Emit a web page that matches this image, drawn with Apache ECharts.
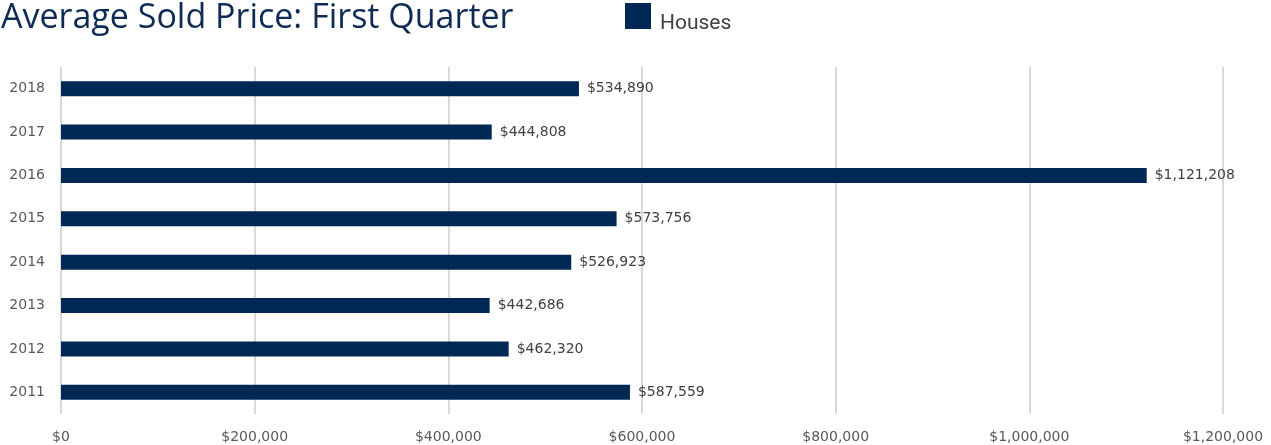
<!DOCTYPE html>
<html>
<head>
<meta charset="utf-8">
<script src="https://cdn.jsdelivr.net/npm/echarts@6/dist/echarts.min.js"></script>
<style>
  html, body { margin: 0; padding: 0; background: #ffffff; }
  #chart { width: 1271px; height: 445px; }
</style>
</head>
<body>
<div id="chart"></div>
<script>
// First-quarter average sold price of houses, by year
const years = ['2011', '2012', '2013', '2014', '2015', '2016', '2017', '2018'];
const houses = [587559, 462320, 442686, 526923, 573756, 1121208, 444808, 534890];

const navy = '#002855';
const money = v => '$' + Math.round(v).toLocaleString('en-US');

const chart = echarts.init(document.getElementById('chart'));
chart.setOption({
  animation: false,
  title: {
    text: 'Average Sold Price: First Quarter',
    left: -4,
    top: -4,
    textStyle: { fontFamily: 'Open Sans', fontSize: 34, fontWeight: 'normal', color: '#0d2b55' }
  },
  legend: {
    data: ['Houses'],
    left: 620,
    top: -2,
    itemWidth: 26,
    itemHeight: 26,
    itemGap: 8,
    icon: 'rect',
    formatter: '{t|{name}}',
    textStyle: {
      rich: {
        t: { fontFamily: 'Roboto', fontSize: 21, color: '#404040', padding: [16, 0, 0, 4] }
      }
    }
  },
  grid: { left: 61, right: 48, top: 67, bottom: 31, containLabel: false },
  xAxis: {
    type: 'value',
    min: 0,
    max: 1200000,
    interval: 200000,
    axisLine: { show: false },
    axisTick: { show: false },
    splitLine: { lineStyle: { color: '#d9d9d9', width: 2 } },
    axisLabel: {
      margin: 16,
      formatter: money,
      fontFamily: 'DejaVu Sans',
      fontSize: 14,
      color: '#595959'
    }
  },
  yAxis: {
    type: 'category',
    data: years,
    axisLine: { show: false },
    axisTick: { show: false },
    axisLabel: { margin: 16, fontFamily: 'DejaVu Sans', fontSize: 14, color: '#595959' }
  },
  series: [{
    name: 'Houses',
    type: 'bar',
    data: houses,
    barWidth: 15,
    itemStyle: { color: navy },
    label: {
      show: true,
      position: 'right',
      distance: 8,
      formatter: p => money(p.value),
      fontFamily: 'DejaVu Sans',
      fontSize: 14,
      color: '#404040'
    }
  }]
});
</script>
</body>
</html>
